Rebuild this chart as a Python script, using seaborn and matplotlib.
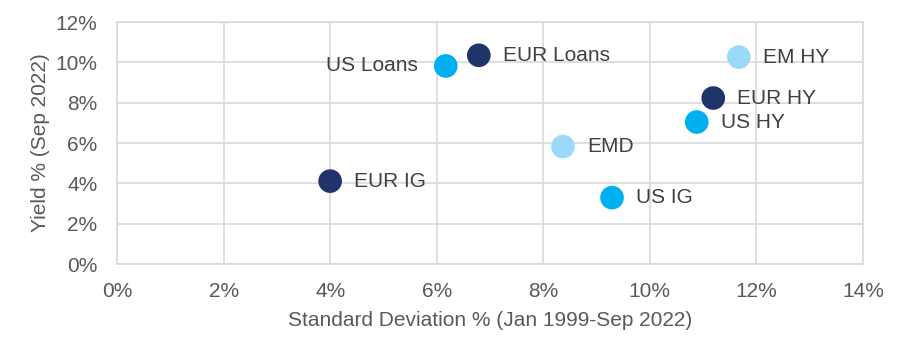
import pandas as pd
import matplotlib.pyplot as plt
import seaborn as sns
from matplotlib.ticker import FuncFormatter

names = ["EUR IG", "US Loans", "EUR Loans", "EMD", "US IG", "US HY", "EUR HY", "EM HY"]
std_dev = [4.0, 6.17, 6.79, 8.37, 9.29, 10.88, 11.19, 11.67]
yields = [4.11, 9.82, 10.35, 5.82, 3.29, 7.04, 8.23, 10.26]
groups = ["EUR", "US", "EUR", "EM", "US", "US", "EUR", "EM"]

palette = {"EUR": "#1F3468", "US": "#00B0F0", "EM": "#99DAFB"}

df = pd.DataFrame({"name": names, "sd": std_dev, "yld": yields, "grp": groups})

sns.set_style("white")
plt.rcParams["font.family"] = ["Liberation Sans", "DejaVu Sans"]

fig = plt.figure(figsize=(9.07, 3.56), dpi=100)
ax = fig.add_axes([117 / 907, 1 - 264 / 356, (863 - 117) / 907, (264 - 22) / 356])

sns.scatterplot(data=df, x="sd", y="yld", hue="grp", palette=palette, s=290,
                edgecolor="none", legend=False, ax=ax, zorder=3)

# point labels, US Loans sits on the left of its marker
for n, x, y in zip(names, std_dev, yields):
    if n == "US Loans":
        ax.annotate(n, (x, y), xytext=(-28, 0), textcoords="offset pixels",
                    ha="right", va="center", fontsize=15, color="#404040")
    else:
        ax.annotate(n, (x, y), xytext=(24, 0), textcoords="offset pixels",
                    ha="left", va="center", fontsize=15, color="#404040")

ax.set_xlim(0, 14)
ax.set_ylim(0, 12)
ax.set_xticks(range(0, 15, 2))
ax.set_yticks(range(0, 13, 2))
pct = FuncFormatter(lambda v, p: f"{v:.0f}%")
ax.xaxis.set_major_formatter(pct)
ax.yaxis.set_major_formatter(pct)
ax.grid(True, color="#D9D9D9", linewidth=1.2, zorder=0)
ax.set_axisbelow(True)
for s in ax.spines.values():
    s.set_color("#D9D9D9")
    s.set_linewidth(1.2)
ax.tick_params(axis="both", length=0, labelsize=15, colors="#595959")
ax.tick_params(axis="x", pad=13)
ax.tick_params(axis="y", pad=14)
ax.set_xlabel("Standard Deviation % (Jan 1999-Sep 2022)", fontsize=15, color="#595959", labelpad=7)
ax.set_ylabel("Yield % (Sep 2022)", fontsize=15, color="#595959", labelpad=4)

fig.savefig("out.png", dpi=100)
